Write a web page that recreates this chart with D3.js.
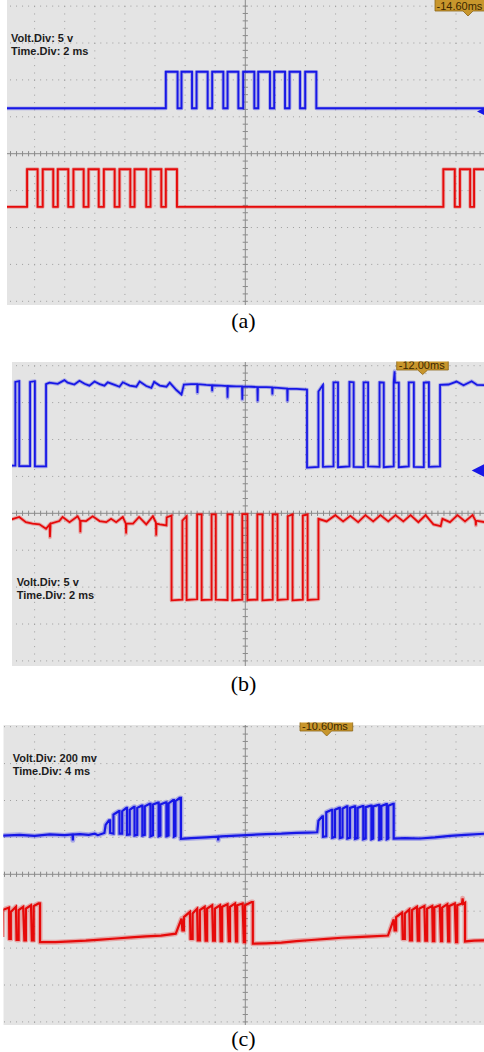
<!DOCTYPE html>
<html><head><meta charset="utf-8">
<script src="https://cdn.jsdelivr.net/npm/d3@7"></script>
<style>body{margin:0;background:#fff}svg{display:block}
.scope{font-family:'Liberation Sans',Arial,sans-serif;font-weight:bold;font-size:11px;fill:#1c1c1c}
.mk{font-family:'Liberation Sans',Arial,sans-serif;font-size:11px;fill:#3a2600}
.cap{font-family:'Liberation Serif','Times New Roman',serif;font-size:22px;fill:#000}
</style>
</head><body>
<svg id="chart" width="484" height="1052"></svg>
<script>
// ---------------- DATA (time in divisions from centre, volts in divisions from centre) ----------------
const panelLabels = ["(a)", "(b)", "(c)"];
const voltDiv = ["Volt.Div: 5 v", "Volt.Div: 5 v", "Volt.Div: 200 mv"];
const timeDiv = ["Time.Div: 2 ms", "Time.Div: 2 ms", "Time.Div: 4 ms"];
const markerText = ["-14.60ms", "-12.00ms", "-10.60ms"];

// Panel (a): square waves given by toggle times
const aBlueEdges = [-2.64,-2.25,-2.12,-1.77,-1.62,-1.25,-1.10,-0.73,-0.59,-0.23,-0.07,0.30,0.43,0.82,0.96,1.32,1.47,1.82,1.99,2.36];
const aBlueLevels = [1.23, 2.22];
const aRedEdges = [-7.25,-6.90,-6.73,-6.38,-6.23,-5.88,-5.71,-5.37,-5.21,-4.87,-4.70,-4.34,-4.18,-3.82,-3.68,-3.29,-3.15,-2.79,-2.64,-2.27,6.58,6.96,7.13,7.47,7.60];
const aRedLevels = [-1.44, -0.42];

// Panel (b): traced points
const bBlue = [
[-7.78,1.29],[-7.64,1.29],[-7.64,3.56],[-7.51,3.58],[-7.51,1.28],[-7.15,1.28],[-7.15,3.56],[-6.99,3.58],[-6.99,1.27],[-6.62,1.27],[-6.62,3.50],
[-6.51,3.54],[-6.23,3.51],[-6.01,3.61],[-5.90,3.54],[-5.68,3.49],[-5.51,3.59],[-5.34,3.51],[-5.18,3.46],[-5.01,3.57],[-4.84,3.50],[-4.68,3.46],[-4.57,3.55],[-4.34,3.48],[-4.18,3.43],[-4.07,3.55],[-3.84,3.46],[-3.62,3.43],[-3.51,3.57],[-3.29,3.45],[-3.12,3.40],[-3.03,3.56],[-2.84,3.46],[-2.62,3.43],[-2.51,3.54],[-2.29,3.34],[-2.12,3.22],[-2.04,3.49],
[-1.80,3.50],[-1.60,3.50],[-1.59,3.26],[-1.58,3.50],[-1.30,3.48],[-1.11,3.47],[-1.10,3.31],[-1.09,3.47],[-0.80,3.46],[-0.60,3.45],[-0.59,3.13],[-0.58,3.45],[-0.30,3.44],[-0.11,3.44],[-0.10,3.08],[-0.09,3.44],[0.20,3.43],[0.40,3.42],[0.41,3.04],[0.42,3.42],[0.70,3.42],[0.89,3.41],[0.90,3.22],[0.91,3.41],[1.20,3.39],[1.39,3.38],[1.40,3.04],[1.41,3.38],[1.70,3.37],[2.05,3.35],
[2.05,1.24],[2.43,1.26],[2.43,3.30],[2.58,3.48],[2.58,1.26],[2.93,1.27],[2.93,3.55],[3.08,3.55],[3.08,1.25],[3.46,1.27],[3.46,3.56],[3.60,3.55],[3.60,1.26],[3.93,1.25],[3.93,3.55],[4.08,3.55],[4.08,1.27],[4.46,1.26],[4.46,3.55],[4.60,3.54],[4.60,1.25],[4.93,1.27],[4.93,3.55],[4.96,3.85],[4.97,3.55],[5.10,3.54],[5.10,1.25],[5.43,1.27],[5.43,3.55],[5.60,3.55],[5.60,1.26],[5.93,1.25],[5.93,3.54],[6.10,3.55],[6.10,1.26],[6.47,1.27],[6.47,3.48],[6.75,3.49],[7.02,3.57],[7.25,3.47],[7.52,3.58],[7.70,3.48],[7.96,3.47]
];
const bRed = [
[-7.78,-0.17],[-7.51,-0.10],[-7.29,-0.24],[-7.07,-0.28],[-6.84,-0.30],[-6.62,-0.42],[-6.50,-0.30],[-6.49,-0.65],[-6.47,-0.28],[-6.18,-0.21],[-6.07,-0.10],[-5.84,-0.24],[-5.57,-0.08],[-5.49,-0.20],[-5.48,-0.51],[-5.47,-0.20],[-5.29,-0.21],[-5.07,-0.08],[-4.84,-0.21],[-4.62,-0.24],[-4.46,-0.15],[-4.29,-0.24],[-4.07,-0.10],[-3.97,-0.28],[-3.96,-0.55],[-3.95,-0.28],[-3.73,-0.28],[-3.53,-0.10],[-3.29,-0.30],[-3.07,-0.08],[-2.97,-0.25],[-2.96,-0.60],[-2.95,-0.28],[-2.84,-0.30],[-2.62,-0.33],[-2.61,-0.11],[-2.45,-0.06],
[-2.45,-2.36],[-2.09,-2.34],[-2.09,-0.20],[-1.95,-0.08],[-1.95,-2.35],[-1.60,-2.33],[-1.60,-0.03],[-1.45,-0.03],[-1.45,-2.35],[-1.12,-2.34],[-1.12,-0.03],[-0.98,-0.03],[-0.98,-2.34],[-0.59,-2.35],[-0.59,-0.03],[-0.43,-0.03],[-0.43,-2.36],[-0.10,-2.34],[-0.10,-0.02],[0.07,-0.02],[0.07,-2.35],[0.40,-2.34],[0.40,-0.03],[0.57,-0.03],[0.57,-2.36],[0.91,-2.34],[0.91,-0.03],[1.07,-0.03],[1.07,-2.35],[1.41,-2.33],[1.41,-0.08],[1.57,-0.03],[1.57,-2.36],[1.91,-2.34],[1.91,-0.06],[2.07,-0.03],[2.07,-2.35],[2.43,-2.33],[2.43,-0.15],
[2.70,-0.22],[2.99,-0.05],[3.25,-0.22],[3.49,-0.07],[3.75,-0.24],[3.99,-0.05],[4.25,-0.22],[4.49,-0.05],[4.75,-0.22],[4.99,-0.05],[5.25,-0.22],[5.49,-0.05],[5.75,-0.24],[5.99,-0.05],[6.25,-0.30],[6.49,-0.35],[6.55,-0.15],[6.80,-0.24],[7.05,-0.05],[7.30,-0.22],[7.55,-0.05],[7.65,-0.20],[7.66,-0.33],[7.67,-0.20],[7.96,-0.24]
];

// Panel (c): traced points
const cBlue = [
[-8.07,1.05],[-7.5,1.07],[-7.0,1.04],[-6.5,1.08],[-6.0,1.06],[-5.74,1.08],[-5.73,0.92],[-5.72,1.08],[-5.5,1.09],[-5.2,1.07],[-5.0,1.10],[-4.9,1.06],[-4.68,1.12],
[-4.64,1.34],[-4.53,1.46],[-4.49,1.46],[-4.49,1.12],[-4.38,1.10],[-4.38,1.62],[-4.20,1.71],[-4.18,1.71],[-4.18,1.10],[-4.09,1.10],[-4.09,1.71],[-3.95,1.80],[-3.93,1.80],[-3.93,1.07],[-3.84,1.08],[-3.84,1.75],[-3.70,1.83],[-3.68,1.83],[-3.68,1.05],[-3.59,1.07],[-3.59,1.80],[-3.44,1.86],[-3.42,1.86],[-3.42,1.05],[-3.34,1.07],[-3.34,1.84],[-3.18,1.91],[-3.15,1.91],[-3.15,1.03],[-3.07,1.06],[-3.07,1.89],[-2.90,1.94],[-2.88,1.94],[-2.88,1.03],[-2.82,1.05],[-2.82,1.89],[-2.64,1.95],[-2.62,1.95],[-2.62,1.03],[-2.55,1.05],[-2.55,1.92],[-2.40,2.01],[-2.37,2.01],[-2.37,1.02],[-2.32,1.04],[-2.32,1.98],[-2.18,2.07],[-2.14,2.07],[-2.14,0.96],
[-1.8,0.98],[-1.3,1.00],[-0.91,1.02],[-0.90,0.92],[-0.89,1.02],[-0.8,1.03],[-0.3,1.05],[0.2,1.07],[0.7,1.09],[1.2,1.10],[1.7,1.12],[2.1,1.13],[2.39,1.14],
[2.43,1.45],[2.56,1.57],[2.58,1.57],[2.58,1.02],[2.69,1.03],[2.69,1.68],[2.87,1.75],[2.89,1.75],[2.89,0.99],[2.98,1.01],[2.98,1.75],[3.12,1.80],[3.14,1.80],[3.14,0.98],[3.23,1.00],[3.23,1.78],[3.37,1.84],[3.39,1.84],[3.39,0.97],[3.48,0.99],[3.48,1.80],[3.63,1.84],[3.65,1.84],[3.65,0.96],[3.73,0.98],[3.73,1.80],[3.90,1.85],[3.92,1.85],[3.92,0.95],[4.00,0.97],[4.00,1.82],[4.17,1.86],[4.19,1.86],[4.19,0.95],[4.25,0.97],[4.25,1.84],[4.43,1.88],[4.45,1.88],[4.45,0.94],[4.52,0.96],[4.52,1.85],[4.68,1.90],[4.70,1.90],[4.70,0.95],[4.75,0.97],[4.75,1.86],[4.91,1.91],[4.93,1.91],[4.93,0.97],
[5.3,0.98],[5.8,0.97],[6.3,1.00],[6.8,1.04],[7.3,1.07],[7.96,1.10]
];
const cRed = [
[-8.07,-1.70],[-8.06,-0.97],[-7.85,-0.90],[-7.84,-1.75],[-7.79,-1.75],[-7.79,-1.02],[-7.62,-0.88],[-7.60,-1.78],[-7.53,-1.78],[-7.53,-0.97],[-7.38,-0.88],[-7.34,-1.79],[-7.29,-1.79],[-7.29,-0.93],[-7.12,-0.84],[-7.09,-1.79],[-7.03,-1.79],[-7.03,-0.86],[-6.87,-0.79],[-6.82,-0.79],[-6.82,-1.84],
[-6.3,-1.84],[-5.8,-1.82],[-5.3,-1.80],[-4.8,-1.77],[-4.3,-1.74],[-3.8,-1.71],[-3.3,-1.68],[-2.8,-1.66],[-2.31,-1.61],
[-2.12,-1.20],[-2.09,-1.52],[-2.04,-1.52],[-2.04,-1.16],[-1.84,-1.02],[-1.82,-1.75],[-1.75,-1.75],[-1.75,-1.06],[-1.60,-0.93],[-1.58,-1.79],[-1.51,-1.79],[-1.51,-0.97],[-1.35,-0.88],[-1.32,-1.80],[-1.27,-1.80],[-1.27,-0.93],[-1.10,-0.84],[-1.07,-1.80],[-1.01,-1.80],[-1.01,-0.93],[-0.84,-0.84],[-0.82,-1.81],[-0.77,-1.81],[-0.77,-0.88],[-0.59,-0.81],[-0.55,-1.81],[-0.51,-1.81],[-0.51,-0.88],[-0.34,-0.79],[-0.31,-1.82],[-0.27,-1.82],[-0.27,-0.84],[-0.09,-0.79],[-0.05,-1.84],[-0.01,-1.84],[-0.01,-0.84],[0.21,-0.75],[0.25,-0.75],[0.25,-1.88],
[0.7,-1.87],[1.2,-1.85],[1.7,-1.81],[2.2,-1.78],[2.7,-1.75],[3.2,-1.72],[3.7,-1.70],[4.2,-1.68],[4.74,-1.66],
[4.93,-1.22],[4.96,-1.52],[5.01,-1.52],[5.01,-1.16],[5.21,-1.04],[5.23,-1.75],[5.30,-1.75],[5.30,-1.06],[5.45,-0.95],[5.47,-1.79],[5.54,-1.79],[5.54,-0.97],[5.70,-0.88],[5.73,-1.80],[5.78,-1.80],[5.78,-0.93],[5.95,-0.86],[5.98,-1.80],[6.04,-1.80],[6.04,-0.93],[6.21,-0.86],[6.23,-1.81],[6.28,-1.81],[6.28,-0.90],[6.46,-0.84],[6.50,-1.81],[6.54,-1.81],[6.54,-0.90],[6.71,-0.81],[6.74,-1.82],[6.78,-1.82],[6.78,-0.86],[6.96,-0.79],[7.00,-1.84],[7.04,-1.84],[7.04,-0.84],[7.20,-0.79],[7.22,-0.65],[7.24,-0.80],[7.30,-0.77],[7.30,-1.82],
[7.6,-1.80],[7.96,-1.79]
];

// ---------------- LAYOUT / STYLE ----------------
const W = 484, X_CENTER = 245.3, X_DIV = 30.1, Y_DIV = 36.9;
const BLUE = "#1717e6", RED = "#e60a0a";
const BG = "#e4e4e4", GRID = "#9e9e9e", AXIS = "#8a8a8a";
const MK_FILL = "#c8962c", MK_STROKE = "#8c6416";

function squarePts(edges, levels, t0, t1) {
  const pts = []; let lvl = levels[0]; pts.push([t0, lvl]);
  edges.forEach(e => { pts.push([e, lvl]); lvl = (lvl === levels[0]) ? levels[1] : levels[0]; pts.push([e, lvl]); });
  pts.push([t1, lvl]); return pts;
}

const panels = [
  { left: 7, top: 0, clipTop: -10, bottom: 305, cy: 153.7, ghost: 3.8, main: 1.9,
    traces: [{ pts: squarePts(aBlueEdges, aBlueLevels, -7.94, 7.96), color: BLUE },
             { pts: squarePts(aRedEdges, aRedLevels, -7.94, 7.96), color: RED }],
    labelY: 328, textX: 11, textY: 41.5,
    marker: { x0: 435, x1: 492, y0: -8, y1: 11, tipX: 468, tipY: 16, tx: 436.5, ty: 10 },
    ground: { tipX: 477, y: 111.5 } },
  { left: 12, top: 362, clipTop: 361.5, bottom: 666, cy: 513.3, ghost: 3.8, main: 1.8,
    traces: [{ pts: bBlue, color: BLUE }, { pts: bRed, color: RED }],
    labelY: 691, textX: 16.7, textY: 585.5,
    marker: { x0: 396.7, x1: 448.3, y0: 352, y1: 370, tipX: 422.7, tipY: 374.5, tx: 398.8, ty: 369 },
    ground: { tipX: 471.7, y: 470.5 } },
  { left: 3.3, top: 725, clipTop: 722.5, bottom: 1025, cy: 874.3, ghost: 5, main: 2.2,
    traces: [{ pts: cBlue, color: BLUE }, { pts: cRed, color: RED }],
    labelY: 1046, textX: 12.7, textY: 761.5,
    marker: { x0: 300, x1: 352.7, y0: 713, y1: 731, tipX: 326.7, tipY: 736, tx: 302, ty: 730 },
    ground: null }
];

const svg = d3.select("#chart");
const defs = svg.append("defs");
const x = d3.scaleLinear().domain([-8, 8]).range([X_CENTER - 8 * X_DIV, X_CENTER + 8 * X_DIV]);

panels.forEach((p, i) => {
  const y = d3.scaleLinear().domain([-4, 4]).range([p.cy + 4 * Y_DIV, p.cy - 4 * Y_DIV]);
  const clipId = "clip" + i, clipId2 = "clipm" + i;
  defs.append("clipPath").attr("id", clipId).append("rect")
    .attr("x", p.left).attr("y", p.top).attr("width", W - p.left).attr("height", p.bottom - p.top);
  defs.append("clipPath").attr("id", clipId2).append("rect")
    .attr("x", p.left).attr("y", p.clipTop).attr("width", W - p.left).attr("height", p.bottom - p.clipTop);

  const g = svg.append("g").attr("clip-path", `url(#${clipId})`);
  g.append("rect").attr("x", p.left).attr("y", p.top).attr("width", W - p.left).attr("height", p.bottom - p.top).attr("fill", BG);

  // dotted grid
  const vTicks = d3.range(-7, 8).filter(d => d !== 0);
  g.selectAll(".gv").data(vTicks).join("line")
    .attr("x1", d => x(d)).attr("x2", d => x(d))
    .attr("y1", y(4)).attr("y2", y(-4) + 1)
    .attr("stroke", GRID).attr("stroke-width", 1)
    .attr("stroke-dasharray", `1 ${Y_DIV / 5 - 1}`);
  const hTicks = [-4, -3, -2, -1, 1, 2, 3, 4];
  g.selectAll(".gh").data(hTicks).join("line")
    .attr("y1", d => y(d)).attr("y2", d => y(d))
    .attr("x1", x(-8) - 0.5).attr("x2", x(8))
    .attr("stroke", GRID).attr("stroke-width", 1)
    .attr("stroke-dasharray", `1 ${X_DIV / 5 - 1}`);

  // centre axes with minor ticks
  g.append("line").attr("x1", p.left).attr("x2", W).attr("y1", y(0)).attr("y2", y(0)).attr("stroke", AXIS).attr("stroke-width", 1);
  g.append("line").attr("x1", x(0)).attr("x2", x(0)).attr("y1", p.top).attr("y2", p.bottom).attr("stroke", AXIS).attr("stroke-width", 1);
  const minorX = d3.range(-40, 41).map(k => k / 5).filter(d => d !== 0);
  g.selectAll(".tx").data(minorX).join("line")
    .attr("x1", d => x(d)).attr("x2", d => x(d)).attr("y1", y(0) - 2.6).attr("y2", y(0) + 2.6)
    .attr("stroke", AXIS).attr("stroke-width", 1);
  const minorY = d3.range(-20, 21).map(k => k / 5).filter(d => d !== 0);
  g.selectAll(".ty").data(minorY).join("line")
    .attr("y1", d => y(d)).attr("y2", d => y(d)).attr("x1", x(0) - 2.6).attr("x2", x(0) + 2.6)
    .attr("stroke", AXIS).attr("stroke-width", 1);

  // scope text
  g.append("text").attr("class", "scope").attr("x", p.textX).attr("y", p.textY).text(voltDiv[i]);
  g.append("text").attr("class", "scope").attr("x", p.textX).attr("y", p.textY + 13.7).text(timeDiv[i]);

  // traces
  const line = d3.line().x(d => x(d[0])).y(d => y(d[1]));
  p.traces.forEach(tr => {
    g.append("path").attr("d", line(tr.pts)).attr("fill", "none").attr("stroke", tr.color)
      .attr("stroke-width", p.ghost).attr("stroke-opacity", 0.28).attr("stroke-linejoin", "round");
    g.append("path").attr("d", line(tr.pts)).attr("fill", "none").attr("stroke", tr.color)
      .attr("stroke-width", p.main).attr("stroke-linejoin", "miter");
  });

  // ground marker
  if (p.ground) {
    const gr = p.ground;
    g.append("path").attr("d", `M${gr.tipX},${gr.y} L${gr.tipX + 14},${gr.y - 7} L${gr.tipX + 14},${gr.y + 7} Z`).attr("fill", BLUE);
  }

  // trigger time marker
  const m = p.marker;
  const mg = svg.append("g").attr("clip-path", `url(#${clipId2})`);
  mg.append("path")
    .attr("d", `M${m.x0},${m.y0} L${m.x1},${m.y0} L${m.x1},${m.y1} L${m.tipX + 5},${m.y1} L${m.tipX},${m.tipY} L${m.tipX - 5},${m.y1} L${m.x0},${m.y1} Z`)
    .attr("fill", MK_FILL).attr("stroke", MK_STROKE).attr("stroke-width", 0.8);
  mg.append("text").attr("class", "mk").attr("x", m.tx).attr("y", m.ty).text(markerText[i]);

  // panel caption
  svg.append("text").attr("class", "cap").attr("x", 243.5).attr("y", p.labelY).attr("text-anchor", "middle")
    .text(panelLabels[i]);
});
</script>
</body></html>
